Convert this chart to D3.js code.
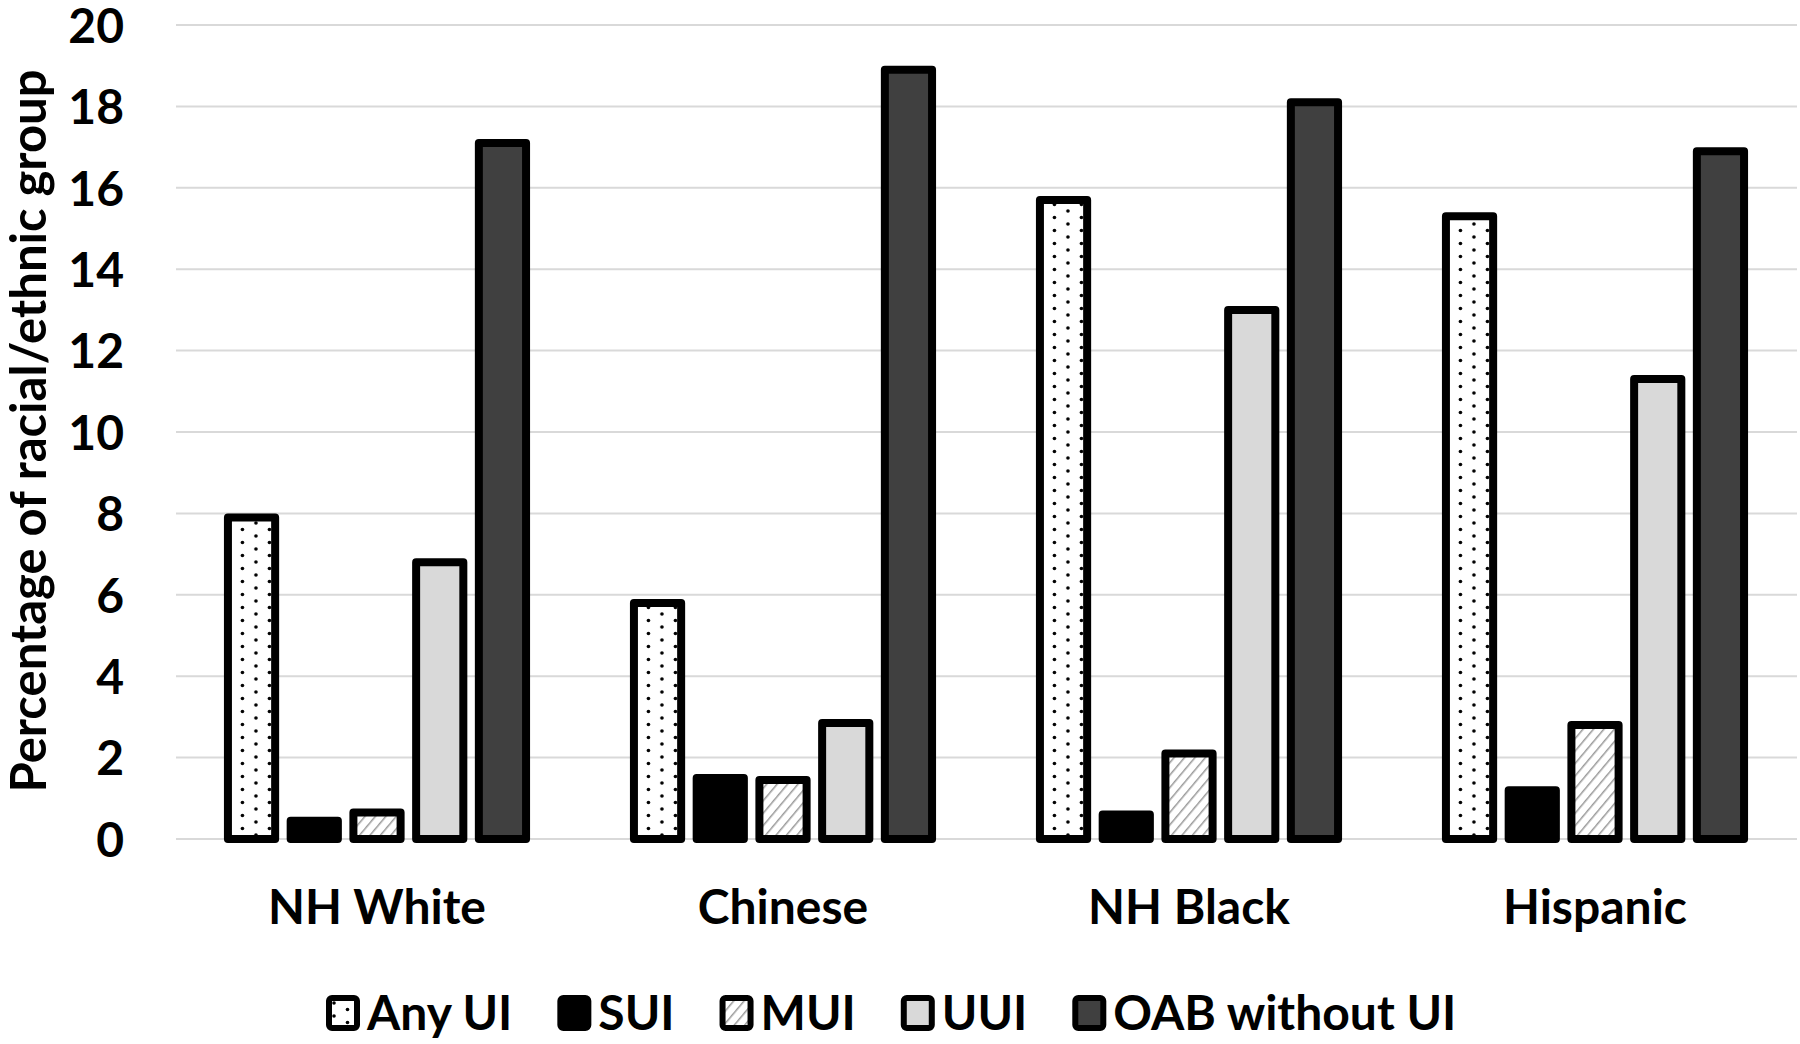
<!DOCTYPE html>
<html>
<head>
<meta charset="utf-8">
<script src="https://cdn.jsdelivr.net/npm/d3@7"></script>
<style>
  body { margin: 0; background: #fff; }
  svg { display: block; font-family: Lato, "Open Sans", sans-serif; font-weight: bold; }
</style>
</head>
<body>
<script>
  //-----------------------------DATA------------------------------//
  const groups = ["NH White", "Chinese", "NH Black", "Hispanic"];
  const series = ["Any UI", "SUI", "MUI", "UUI", "OAB without UI"];
  const anyUI = [7.9, 5.8, 15.7, 15.3];
  const sui = [0.45, 1.5, 0.6, 1.2];
  const mui = [0.65, 1.45, 2.1, 2.8];
  const uui = [6.8, 2.85, 13.0, 11.3];
  const oab = [17.1, 18.9, 18.1, 16.9];
  const yTicks = [0, 2, 4, 6, 8, 10, 12, 14, 16, 18, 20];
  const yTitle = "Percentage of racial/ethnic group";

  const values = [anyUI, sui, mui, uui, oab];
  const fills = ["url(#dots)", "#000", "url(#hatch)", "#d9d9d9", "#404040"];

  //-----------------------------SVG------------------------------//
  const width = 1800;
  const height = 1044;
  const sw = 8;

  const svg = d3.select("body").append("svg")
    .attr("width", width)
    .attr("height", height);

  const defs = svg.append("defs");
  const dots = defs.append("pattern")
    .attr("id", "dots")
    .attr("patternUnits", "userSpaceOnUse")
    .attr("width", 27).attr("height", 13);
  dots.append("rect").attr("width", 27).attr("height", 13).attr("fill", "#fff");
  dots.append("circle").attr("cx", 5).attr("cy", 3).attr("r", 1.8).attr("fill", "#000");
  dots.append("circle").attr("cx", 18.5).attr("cy", 9.5).attr("r", 1.8).attr("fill", "#000");

  const hatch = defs.append("pattern")
    .attr("id", "hatch")
    .attr("patternUnits", "userSpaceOnUse")
    .attr("width", 8).attr("height", 8)
    .attr("patternTransform", "rotate(40)");
  hatch.append("rect").attr("width", 8).attr("height", 8).attr("fill", "#fff");
  hatch.append("line").attr("x1", 0).attr("y1", 0).attr("x2", 0).attr("y2", 8)
    .attr("stroke", "#9a9a9a").attr("stroke-width", 3);

  //----------------------------SCALES-----------------------------//
  const yScale = d3.scaleLinear().domain([0, 20]).range([839, 25]);
  const x0 = d3.scaleBand().domain(groups).range([174, 1798])
    .paddingInner(0.246).paddingOuter(0.123);
  const x1 = d3.scaleBand().domain(series).range([0, x0.bandwidth()])
    .paddingInner(0.12);

  //-----------------------------GRID------------------------------//
  svg.append("g")
    .selectAll("line")
    .data(yTicks)
    .enter().append("line")
    .attr("x1", 176).attr("x2", 1797)
    .attr("y1", d => yScale(d)).attr("y2", d => yScale(d))
    .attr("stroke", "#d9d9d9")
    .attr("stroke-width", 2);

  //-----------------------------AXES------------------------------//
  const yaxis = d3.axisLeft(yScale).tickValues(yTicks).tickSize(0).tickPadding(0);
  const gy = svg.append("g")
    .attr("transform", "translate(124,0)")
    .call(yaxis);
  gy.select(".domain").remove();
  gy.selectAll("text")
    .attr("fill", "#000")
    .attr("dy", "0.36em")
    .style("font-size", "48px")
    .style("font-family", "Lato")
    .style("font-weight", "bold");

  const xaxis = d3.axisBottom(x0).tickSize(0).tickPadding(0);
  const gx = svg.append("g")
    .attr("transform", "translate(0,890)")
    .call(xaxis);
  gx.select(".domain").remove();
  gx.selectAll("text")
    .attr("fill", "#000")
    .attr("dy", "0.71em")
    .style("font-size", "48px")
    .style("font-family", "Lato")
    .style("font-weight", "bold");

  svg.append("text")
    .attr("transform", "translate(46,431) rotate(-90)")
    .attr("text-anchor", "middle")
    .style("font-size", "49px")
    .text(yTitle);

  //-----------------------------BARS------------------------------//
  const bars = svg.append("g")
    .selectAll("g")
    .data(groups)
    .enter().append("g")
    .attr("transform", d => "translate(" + x0(d) + ",0)");

  bars.selectAll("rect")
    .data((g, gi) => series.map((s, si) => ({ s: s, si: si, v: values[si][gi] })))
    .enter().append("rect")
    .attr("x", d => x1(d.s) + sw / 2)
    .attr("width", x1.bandwidth() - sw)
    .attr("y", d => yScale(d.v))
    .attr("height", d => yScale(0) - yScale(d.v))
    .attr("fill", d => fills[d.si])
    .attr("stroke", "#000")
    .attr("stroke-width", sw)
    .attr("stroke-linejoin", "round");

  //----------------------------LEGEND------------------------------//
  const legend = svg.append("g").attr("transform", "translate(329,1013)");
  let lx = 0;
  series.forEach(function (s, i) {
    const item = legend.append("g").attr("transform", "translate(" + lx + ",0)");
    item.append("rect")
      .attr("x", 0).attr("y", -15)
      .attr("width", 28).attr("height", 30)
      .attr("rx", 3)
      .attr("fill", fills[i])
      .attr("stroke", "#000")
      .attr("stroke-width", 6);
    const t = item.append("text")
      .attr("x", 38)
      .attr("dy", "0.36em")
      .style("font-size", "48px")
      .text(s);
    lx += 38 + t.node().getComputedTextLength() + 48;
  });
</script>
</body>
</html>
